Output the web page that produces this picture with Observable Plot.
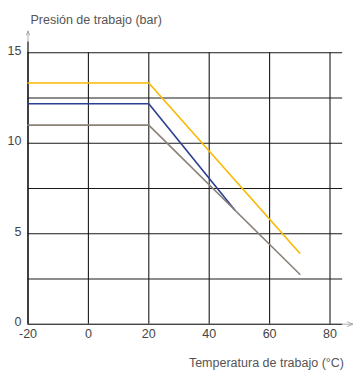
<!DOCTYPE html>
<html><head><meta charset="utf-8">
<script src="https://cdn.jsdelivr.net/npm/d3@7"></script>
<script src="https://cdn.jsdelivr.net/npm/@observablehq/plot@0.6"></script>
<style>body{margin:0;background:#fff}</style>
</head><body><div id="chart"></div>
<script>
const xTicks = [-20, 0, 20, 40, 60, 80];
const yTicks = [0, 5, 10, 15];
const yGrid = [0, 2.5, 5, 7.5, 10, 12.5, 15];
const orangeX = [-20, 20, 70];
const orangeY = [13.33, 13.33, 3.92];
const navyX = [-20, 20, 48.4];
const navyY = [12.18, 12.18, 6.32];
const grayX = [-20, 20, 70];
const grayY = [11.0, 11.0, 2.76];
const xTitle = "Temperatura de trabajo (°C)";
const yTitle = "Presión de trabajo (bar)";

const series = [
  {name: "navy", xs: navyX, ys: navyY, color: "#2b3f93"},
  {name: "orange", xs: orangeX, ys: orangeY, color: "#fbb800"},
  {name: "gray", xs: grayX, ys: grayY, color: "#8a8279"}
];
const rows = series.flatMap(s => s.xs.map((x, i) => ({series: s.name, x, y: s.ys[i], color: s.color})));

const font = "'Liberation Sans Narrow', 'Arial Narrow', 'Liberation Sans', sans-serif";
const chart = Plot.plot({
  width: 353, height: 370,
  marginLeft: 27.5, marginRight: 23.5, marginTop: 52.3, marginBottom: 46.3,
  style: {fontFamily: font, fontSize: "13px", color: "#444", background: "#fff"},
  x: {domain: [-20, 80], axis: null},
  y: {domain: [0, 15], axis: null},
  marks: [
    Plot.arrow([0], {x1: -20, y1: 0, x2: 87.6, y2: 0, stroke: "#999", strokeWidth: 0.8, headLength: 11, headAngle: 44}),
    Plot.arrow([0], {x1: -20, y1: 0, x2: -20, y2: 16.2, stroke: "#999", strokeWidth: 0.8, headLength: 8, headAngle: 44}),
    Plot.ruleY(yGrid, {x1: -20, x2: 84.2, stroke: "#1a1a1a", strokeWidth: 1.1}),
    Plot.ruleX(xTicks, {y1: 0, y2: 15, stroke: "#1a1a1a", strokeWidth: 1.1}),
    Plot.ruleX([-20], {y1: 0, y2: 15.6, stroke: "#1a1a1a", strokeWidth: 1.1}),
    Plot.line(rows, {x: "x", y: "y", z: "series", stroke: "color", strokeWidth: 1.6}),
    Plot.axisX({ticks: xTicks, label: null, tickSize: 0, tickPadding: 4.5, tickFormat: d => String(d), fontSize: 12.5, fill: "#444"}),
    Plot.axisY({ticks: yTicks, label: null, tickSize: 0, tickPadding: 6.5, dy: -2, tickFormat: d => String(d), fontSize: 12.5, fill: "#444"}),
    Plot.text([yTitle], {text: d => d, frameAnchor: "top-left", textAnchor: "start", lineAnchor: "bottom", dx: 2.5, dy: -29, fontSize: 12.5, fill: "#555"}),
    Plot.text([xTitle], {text: d => d, frameAnchor: "bottom-right", textAnchor: "end", lineAnchor: "bottom", dx: 14, dy: 43, fontSize: 12.5, fill: "#555"})
  ]
});
document.getElementById("chart").append(chart);
</script>
</body></html>
